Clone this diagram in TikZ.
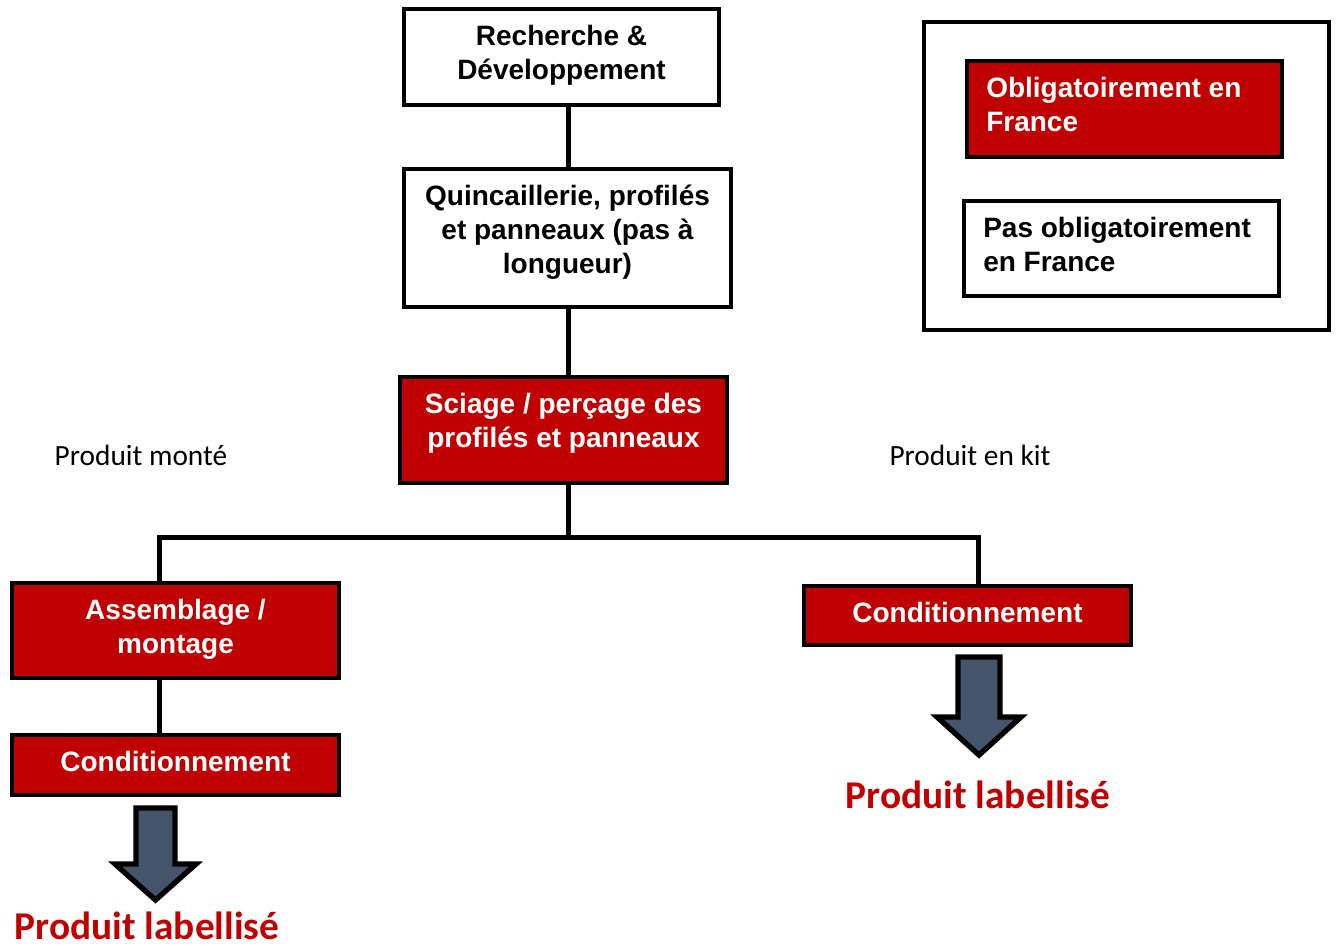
\documentclass[tikz,border=0pt]{standalone}
\usepackage{fontspec}
\setmainfont{Liberation Sans}
\newfontfamily\calibri{Carlito}
\usetikzlibrary{positioning}
\definecolor{boxred}{HTML}{C00000}
\definecolor{arrowgrey}{HTML}{44546A}

\begin{document}
\begin{tikzpicture}[x=0.75pt, y=-0.75pt,
    box/.style={draw=black, line width=3pt, rectangle, inner sep=0pt, minimum width=245.25pt},
    whitebox/.style={box, fill=white},
    redbox/.style={box, fill=boxred},
    boxtext/.style={anchor=north, inner sep=0pt, align=center, yshift=-13.5pt,
      font=\bfseries\fontsize{21}{25.5}\selectfont},
    redtext/.style={boxtext, text=white},
    legtext/.style={boxtext, anchor=north west, align=left, xshift=15.75pt},
    link/.style={line width=3.75pt},
    blockarrow/.style={draw=black, fill=arrowgrey, line width=4pt, line join=miter},
    outtext/.style={text=boxred, font=\calibri\bfseries\fontsize{29.5}{34}\selectfont},
    sidetext/.style={font=\calibri\fontsize{22}{26}\selectfont}
  ]
  \useasboundingbox (0,0) rectangle (1337,950);

  % Chain of steps
  \node[whitebox, minimum width=236.25pt, minimum height=72pt,
    label={[boxtext]north:Recherche \&\\Développement}] (rd) at (561.5,57) {};
  \node[whitebox, minimum height=103.5pt,
    label={[boxtext]north:Quincaillerie, profilés\\et panneaux (pas à\\longueur)}] (quinc) at (567.5,238) {};
  \node[redbox, minimum height=79.5pt,
    label={[redtext]north:Sciage / perçage des\\profilés et panneaux}] (sciage) at (563.5,430) {};

  % Produit monte
  \node[redbox, minimum height=71.25pt,
    label={[redtext]north:Assemblage /\\montage}] (assem) at (175.5,630.5) {};
  \node[redbox, minimum height=45pt,
    label={[redtext]north:Conditionnement}] (condL) at (175.5,765) {};

  % Produit en kit
  \node[redbox, minimum height=44.25pt,
    label={[redtext]north:Conditionnement}] (condR) at (967.5,615.5) {};

  % Legend
  \node[box, minimum width=303.75pt, minimum height=231pt] (legend) at (1126.5,176) {};
  \node[redbox, minimum width=236.25pt, minimum height=72pt,
    label={[legtext, text=white]north west:Obligatoirement en\\France}] (oblig) at (1124.5,109) {};
  \node[whitebox, minimum width=236.25pt, minimum height=71.25pt,
    label={[legtext]north west:Pas obligatoirement\\en France}] (pasoblig) at (1121.5,248.5) {};

  % Connectors
  \coordinate (spine) at (568,0);
  \coordinate (jL) at (159,537);
  \coordinate (jR) at (978,537);
  \draw[link] (spine |- rd.south) -- (spine |- quinc.north);
  \draw[link] (spine |- quinc.south) -- (spine |- sciage.north);
  \draw[link] (spine |- sciage.south) -- (spine |- jL);
  \draw[link] (assem.north -| jL) -- (jL) -- (jR) -- (jR |- condR.north);
  \draw[link] (assem.south -| jL) -- (condL.north -| jL);

  % Block arrows
  \draw[blockarrow] (136,808) -- (175,808) -- (175,864) -- (196,864) -- (155.5,900)
    -- (115,864) -- (136,864) -- cycle;
  \draw[blockarrow] (958,657) -- (1000,657) -- (1000,717) -- (1021,717) -- (979,755)
    -- (937,717) -- (958,717) -- cycle;

  % Texts
  \node[outtext] (outL) at (147,926) {Produit labellisé};
  \node[outtext] (outR) at (978,795) {Produit labellisé};
  \node[sidetext] (monte) at (141,455) {Produit monté};
  \node[sidetext] (kit) at (970,455) {Produit en kit};
\end{tikzpicture}
\end{document}
